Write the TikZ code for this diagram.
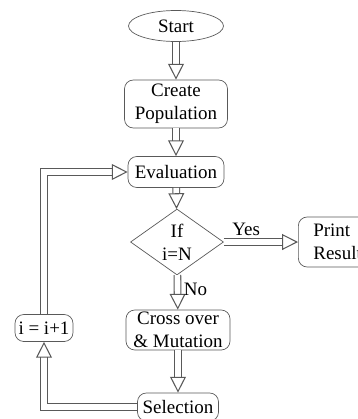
\documentclass[tikz,border=0pt]{standalone}
\usepackage{fontspec}
\setmainfont{Liberation Serif}
\usetikzlibrary{shapes.geometric}
\usetikzlibrary{arrows.meta}

\tikzset{
    box/.style={draw=gray!70!black, rounded corners=5pt, align=center, inner sep=1pt},
    flow/.style={draw=gray!70!black, line width=0.6pt, double=white, double distance=3.2pt,
        -{Triangle[open, length=9pt, width=9pt, line width=0.6pt]}},
}

\begin{document}
\begin{tikzpicture}[x=0.02cm, y=-0.02cm, font=\fontsize{10.8}{13}\selectfont, text=black]
    \useasboundingbox (0,0) rectangle (358,419);
    % main column
    \node [draw=gray!70!black, ellipse, minimum width=1.9cm, minimum height=0.62cm, inner sep=0pt] (start) at (176, 26) {Start};
    \node [box, minimum width=2.06cm, minimum height=0.96cm] (create) at (176, 104) {Create\\Population};
    \node [box, minimum width=1.92cm, minimum height=0.62cm] (eval) at (176, 172) {Evaluation};
    \node [draw=gray!70!black, diamond, minimum width=1.86cm, minimum height=1.14cm, inner sep=0pt, align=center] (ifn) at (177, 242) {If\\i=N};
    \node [box, minimum width=2.08cm, minimum height=0.8cm] (cross) at (178, 330) {Cross over\\\& Mutation};
    \node [box, minimum width=1.62cm, minimum height=0.56cm] (sel) at (178, 407) {Selection};
    % side boxes
    \node [box, anchor=west, align=left, inner xsep=0.3cm, minimum height=1.0cm] (print) at (298, 242) {Print\\Result};
    \node [box, minimum width=1.16cm, minimum height=0.54cm] (inc) at (44, 328) {i = i+1};
    % arrows
    \draw [flow] (start) to (create);
    \draw [flow] (create) to (eval);
    \draw [flow] (eval) to (ifn);
    \draw [flow] (ifn) to node[above, pos=0.3] (yes) {Yes} (print);
    \draw [flow] (ifn) to node[right, pos=0.4] (no) {No} (cross);
    \draw [flow] (cross) to (sel);
    % loop back
    \draw [flow] (sel.west) -| (inc.south);
    \draw [flow] (inc.north) |- (eval.west);
\end{tikzpicture}
\end{document}
